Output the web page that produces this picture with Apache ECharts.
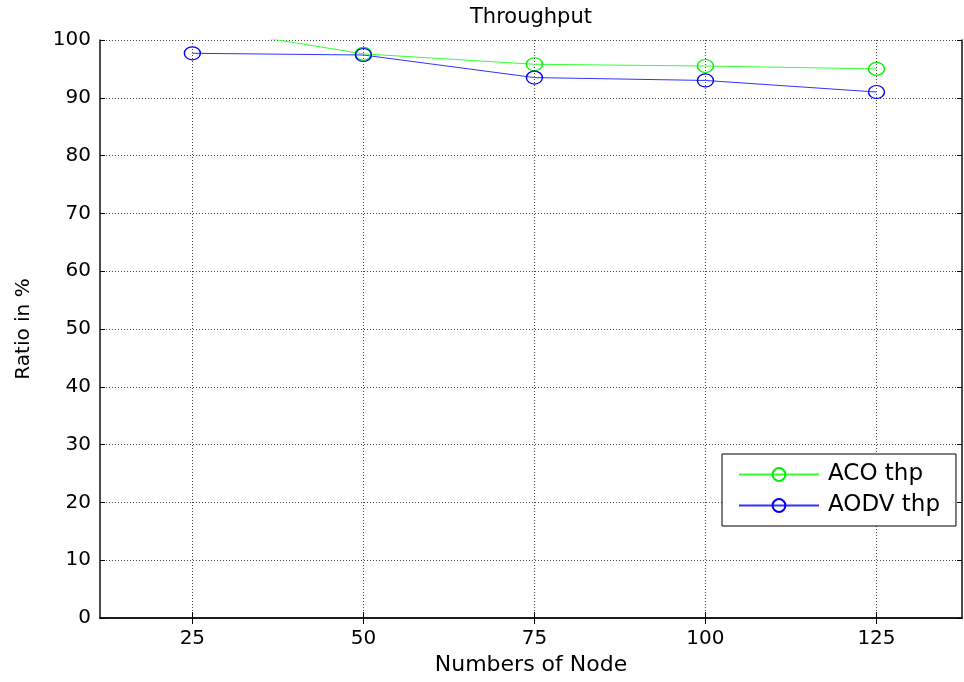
<!DOCTYPE html>
<html>
<head>
<meta charset="utf-8">
<title>Throughput</title>
<script src="https://cdn.jsdelivr.net/npm/echarts@6/dist/echarts.min.js"></script>
<style>
  html, body { margin: 0; padding: 0; background: #fff; }
  #chart { width: 964px; height: 682px; }
</style>
</head>
<body>
<div id="chart"></div>
<script>
// values
const nodes = [25, 50, 75, 100, 125]
const acoThp = [102.4, 97.6, 95.8, 95.5, 95.0]
const aodvThp = [97.7, 97.4, 93.5, 93.0, 91.0]

const font = 'DejaVu Sans'

function pairs(xs, ys) {
  return xs.map((x, i) => [x, ys[i]])
}

const chart = echarts.init(document.getElementById('chart'))

const gridLine = {
  show: true,
  lineStyle: { color: '#444', type: [1, 2], width: 1 }
}
const boxLine = { show: true, lineStyle: { color: '#111', width: 1.5 } }

chart.setOption({
  backgroundColor: '#fff',
  animation: false,
  grid: { left: 100, right: 2, top: 40, bottom: 64 },
  legend: {
    orient: 'vertical',
    left: 722,
    top: 454,
    padding: [9, 16, 9, 16],
    itemWidth: 80,
    itemHeight: 16,
    itemGap: 8,
    backgroundColor: '#fff',
    borderColor: '#000',
    borderWidth: 1,
    textStyle: { fontFamily: font, fontSize: 23, color: '#000', padding: [0, 0, 0, 4] },
    data: ['ACO thp', 'AODV thp']
  },
  xAxis: [
    {
      type: 'value',
      position: 'bottom',
      min: 11.5,
      max: 137.5,
      name: 'Numbers of Node',
      nameLocation: 'middle',
      nameGap: 36,
      nameTextStyle: { fontFamily: font, fontSize: 22, color: '#000' },
      axisLine: boxLine,
      axisTick: { show: true, inside: true, length: 6, customValues: nodes, lineStyle: { color: '#000' } },
      axisLabel: { customValues: nodes, margin: 11, fontFamily: font, fontSize: 20, color: '#000' },
      splitLine: gridLine
    },
    {
      type: 'value',
      position: 'top',
      min: 11.5,
      max: 137.5,
      name: 'Throughput',
      nameLocation: 'middle',
      nameGap: 12,
      nameTextStyle: { fontFamily: font, fontSize: 21, color: '#000' },
      axisLine: boxLine,
      axisTick: { show: true, inside: true, length: 6, customValues: nodes, lineStyle: { color: '#000' } },
      axisLabel: { show: false },
      splitLine: { show: false }
    }
  ],
  yAxis: [
    {
      type: 'value',
      position: 'left',
      min: 0,
      max: 100,
      interval: 10,
      name: 'Ratio in %',
      nameLocation: 'middle',
      nameGap: 66,
      nameTextStyle: { fontFamily: font, fontSize: 20, color: '#000' },
      axisLine: boxLine,
      axisTick: { show: true, inside: true, length: 5, lineStyle: { color: '#000' } },
      axisLabel: { margin: 9, fontFamily: font, fontSize: 20, color: '#000' },
      splitLine: gridLine
    },
    {
      type: 'value',
      position: 'right',
      min: 0,
      max: 100,
      interval: 10,
      axisLine: boxLine,
      axisTick: { show: true, inside: true, length: 5, lineStyle: { color: '#000' } },
      axisLabel: { show: false },
      splitLine: { show: false }
    }
  ],
  series: [
    {
      name: 'ACO thp',
      type: 'line',
      xAxisIndex: 0,
      yAxisIndex: 0,
      data: pairs(nodes, acoThp),
      symbol: 'circle',
      symbolSize: [16, 13],
      itemStyle: { color: 'rgba(0,0,0,0)', borderColor: '#00ee00', borderWidth: 1.3 },
      lineStyle: { color: '#33ff33', width: 1 },
      z: 3
    },
    {
      name: 'AODV thp',
      type: 'line',
      xAxisIndex: 0,
      yAxisIndex: 0,
      data: pairs(nodes, aodvThp),
      symbol: 'circle',
      symbolSize: [16, 13],
      itemStyle: { color: 'rgba(0,0,0,0)', borderColor: '#0000ff', borderWidth: 1.3 },
      lineStyle: { color: '#3333ff', width: 1 },
      z: 4
    }
  ]
})
</script>
</body>
</html>
